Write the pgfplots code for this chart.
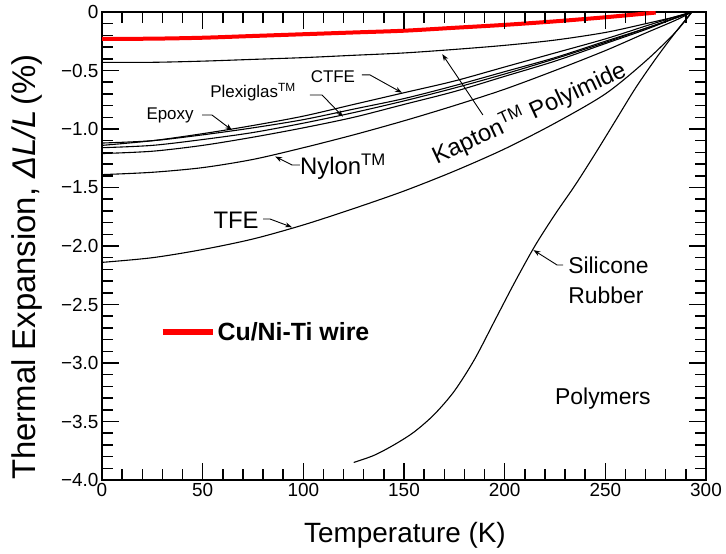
\documentclass[border=0pt]{standalone}
\usepackage{fontspec}
\setmainfont{Liberation Sans}
\usepackage{pgfplots}
\pgfplotsset{compat=1.18}
\usetikzlibrary{arrows.meta}
\newcommand{\myfs}[1]{\fontsize{#1}{#1}\selectfont}
\begin{document}
\begin{tikzpicture}
\path (0bp,0bp) rectangle (726bp,554bp);
\begin{axis}[
  at={(102bp,74bp)}, anchor=south west,
  scale only axis, width=604bp, height=468bp,
  xmin=0, xmax=300, ymin=-4, ymax=0,
  xtick={0,50,...,300}, xticklabels={0,50,100,150,200,250,300},
  ytick={-4,-3.5,...,0}, yticklabels={−4.0,−3.5,−3.0,−2.5,−2.0,−1.5,−1.0,−0.5,0},
  minor x tick num=4, minor y tick num=4,
  tick align=inside,
  major tick length=17bp, minor tick length=11bp,
  tick style={black, line width=1.5bp},
  axis line style={line width=2.2bp},
  ticklabel style={font=\myfs{19}},
  legend style={at={(rel axis cs:0.095,0.316)}, anchor=west, draw=none, fill=none,
    font=\bfseries\myfs{25}, inner sep=0pt},
  legend image code/.code={\draw[red, line width=6bp] (0bp,0bp) -- (50bp,0bp);},
  legend cell align=left,
]
% Kapton
\addplot[black, line width=1.1bp, smooth, forget plot] coordinates {
(0,-0.43) (25,-0.43) (50,-0.42) (75,-0.405) (100,-0.39) (125,-0.37) (150,-0.35) (175,-0.32) (200,-0.285) (225,-0.24) (250,-0.175) (270,-0.10) (285,-0.04) (293,0)};
% CTFE
\addplot[black, line width=1.1bp, smooth, forget plot] coordinates {
(0,-1.14) (25,-1.10) (50,-1.04) (75,-0.97) (100,-0.89) (125,-0.79) (150,-0.69) (175,-0.59) (200,-0.47) (225,-0.35) (250,-0.23) (270,-0.12) (285,-0.04) (293,0)};
% Epoxy
\addplot[black, line width=1.1bp, smooth, forget plot] coordinates {
(0,-1.12) (25,-1.10) (50,-1.05) (75,-0.99) (100,-0.92) (125,-0.83) (150,-0.74) (175,-0.63) (200,-0.51) (225,-0.39) (250,-0.25) (270,-0.14) (285,-0.05) (293,0)};
% Plexiglas A
\addplot[black, line width=1.1bp, smooth, forget plot] coordinates {
(0,-1.16) (25,-1.14) (50,-1.09) (75,-1.03) (100,-0.95) (125,-0.86) (150,-0.76) (175,-0.65) (200,-0.53) (225,-0.40) (250,-0.26) (270,-0.14) (285,-0.05) (293,0)};
% Plexiglas B
\addplot[black, line width=1.1bp, smooth, forget plot] coordinates {
(0,-1.21) (25,-1.19) (50,-1.14) (75,-1.07) (100,-0.99) (125,-0.90) (150,-0.79) (175,-0.68) (200,-0.55) (225,-0.42) (250,-0.27) (270,-0.15) (285,-0.05) (293,0)};
% Nylon
\addplot[black, line width=1.1bp, smooth, forget plot] coordinates {
(0,-1.39) (25,-1.37) (50,-1.33) (75,-1.26) (100,-1.16) (125,-1.05) (150,-0.93) (175,-0.80) (200,-0.66) (225,-0.50) (250,-0.33) (270,-0.18) (285,-0.07) (293,0)};
% TFE
\addplot[black, line width=1.1bp, smooth, forget plot] coordinates {
(0,-2.14) (25,-2.10) (50,-2.03) (75,-1.94) (100,-1.82) (125,-1.68) (150,-1.53) (175,-1.36) (200,-1.17) (225,-0.95) (250,-0.70) (270,-0.42) (285,-0.17) (293,0)};
% Silicone rubber
\addplot[black, line width=1.1bp, smooth, forget plot] coordinates {
(125,-3.85) (135,-3.79) (145,-3.70) (155,-3.59) (165,-3.44) (175,-3.24) (185,-2.97) (195,-2.64) (205,-2.31) (215,-2.00) (225,-1.73) (235,-1.48) (245,-1.21) (255,-0.93) (265,-0.65) (275,-0.40) (285,-0.17) (293,0)};
% Cu/Ni-Ti wire
\addplot[red, line width=4bp, smooth] coordinates {
(0,-0.23) (25,-0.228) (50,-0.22) (75,-0.205) (100,-0.19) (125,-0.175) (150,-0.16) (175,-0.135) (200,-0.11) (225,-0.08) (250,-0.045) (275,-0.005)};
\addlegendentry{Cu/Ni-Ti wire}

% annotations
\tikzset{ann/.style={black, line width=0.9bp, -{Stealth[length=7bp,width=5bp]}}}
\node[font=\myfs{17}] at (axis cs:114.7,-0.556) {CTFE};
\draw[ann] (axis cs:129.1,-0.538) -- (axis cs:133.1,-0.538) -- (axis cs:149,-0.69);
\node[font=\myfs{17}] at (axis cs:75,-0.684) {Plexiglas\textsuperscript{TM}};
\draw[ann] (axis cs:103.3,-0.709) -- (axis cs:109.3,-0.709) -- (axis cs:119.7,-0.895);
\node[font=\myfs{17}] at (axis cs:33.8,-0.88) {Epoxy};
\draw[ann] (axis cs:49.7,-0.88) -- (axis cs:54.6,-0.88) -- (axis cs:64.6,-1.01);
\node[font=\myfs{24}] at (axis cs:119.7,-1.325) {Nylon\textsuperscript{TM}};
\draw[ann] (axis cs:98.3,-1.308) -- (axis cs:94.4,-1.308) -- (axis cs:86,-1.235);
\node[font=\myfs{24}] at (axis cs:66.6,-1.78) {TFE};
\draw[ann] (axis cs:80,-1.769) -- (axis cs:83.4,-1.769) -- (axis cs:94.4,-1.84);
\node[font=\myfs{24}, rotate=25] at (axis cs:212.1,-0.863) {Kapton\textsuperscript{TM} Polyimide};
\draw[ann] (axis cs:189.2,-0.88) -- (axis cs:169,-0.36);
\node[font=\myfs{23}, anchor=west, inner sep=0pt] at (axis cs:231.5,-2.162) {Silicone};
\node[font=\myfs{23}, anchor=west, inner sep=0pt] at (axis cs:231.5,-2.419) {Rubber};
\draw[ann] (axis cs:229,-2.162) -- (axis cs:226,-2.162) -- (axis cs:214.3,-2.035);
\node[font=\myfs{23}] at (axis cs:248.8,-3.30) {Polymers};
\end{axis}
% tick marks on all four sides (inside)
\foreach \i in {1,...,29}{
  \pgfmathsetmacro{\len}{ifthenelse(mod(\i,5)==0,17,11)}
  \draw[line width=1.5bp] ({(102+20.13333*\i)*1bp},74bp) -- ++(0,{\len*1bp});
  \draw[line width=1.5bp] ({(102+20.13333*\i)*1bp},542bp) -- ++(0,{-\len*1bp});
}
\foreach \j in {1,...,39}{
  \pgfmathsetmacro{\len}{ifthenelse(mod(\j,5)==0,17,11)}
  \draw[line width=1.5bp] (102bp,{(74+11.7*\j)*1bp}) -- ++({\len*1bp},0);
  \draw[line width=1.5bp] (706bp,{(74+11.7*\j)*1bp}) -- ++({-\len*1bp},0);
}
\node[font=\myfs{28}] at (405bp,19bp) {Temperature (K)};
\node[rotate=90, font=\myfs{33}] at (27bp,287bp) {Thermal Expansion, \textit{ΔL/L}\,(\%)};
\end{tikzpicture}
\end{document}
